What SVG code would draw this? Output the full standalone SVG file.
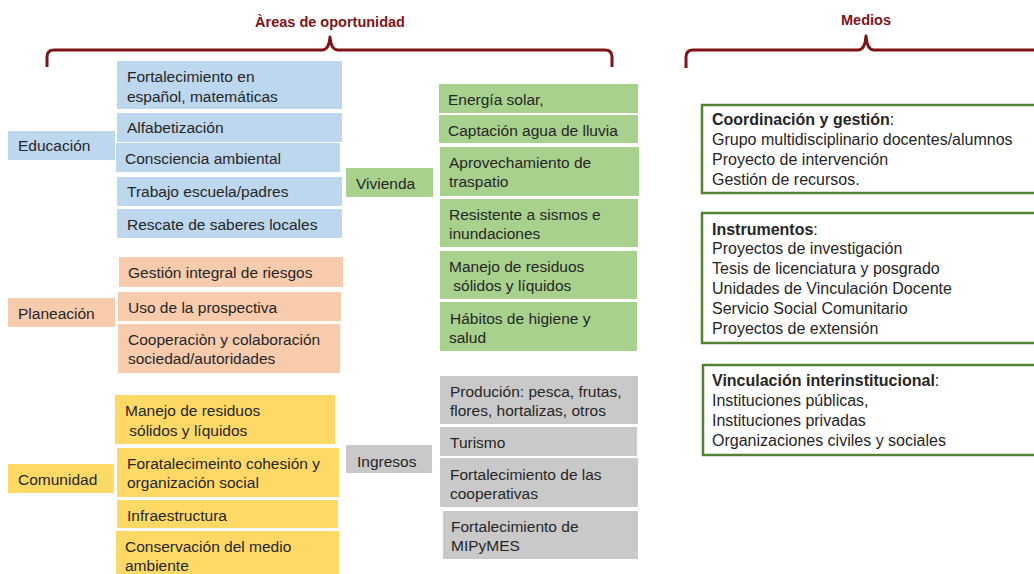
<svg xmlns="http://www.w3.org/2000/svg" width="1034" height="574" viewBox="0 0 1034 574">
<style>
text{font-family:"Liberation Sans",Arial,sans-serif;font-size:15.5px;fill:#262626}
.t{font-weight:bold;font-size:14.5px;fill:#7f1418}
.m{font-size:16px}
.b{font-weight:bold}
.brace{fill:none;stroke:#7f1418;stroke-width:3;stroke-linejoin:round}
.blue{fill:#bdd7ee}.sal{fill:#f8cbad}.yel{fill:#ffd966}.grn{fill:#a9d18e}.gry{fill:#c9c9c9}
.med{fill:#fff;stroke:#548235;stroke-width:2.5}
</style>
<rect width="1034" height="574" fill="#fff"/>
<text class="t" x="330" y="27" text-anchor="middle">Àreas de oportunidad</text>
<text class="t" x="866" y="25" text-anchor="middle">Medios</text>
<g id="braces">
<path class="brace" d="M47,67 L47,57 Q47,50 54,50 L322,50 Q329,50 330,37 Q331,50 338,50 L605,50 Q612,50 612,57 L612,67"/>
<path class="brace" d="M686,68 L686,57 Q686,50 693,50 L858,50 Q865,50 866,36 Q867,50 874,50 L1040,50"/>
</g>
<g id="educacion">
<rect class="blue" x="8" y="131" width="107" height="29"/><text x="18" y="151">Educación</text>
<rect class="blue" x="117" y="61" width="225" height="48"/><text x="127" y="81.5">Fortalecimiento en</text><text x="127" y="101.5">español, matemáticas</text>
<rect class="blue" x="117" y="113" width="225" height="29"/><text x="127" y="133">Alfabetización</text>
<rect class="blue" x="116" y="143" width="224" height="29"/><text x="125" y="163.5">Consciencia ambiental</text>
<rect class="blue" x="117" y="177" width="225" height="29"/><text x="127" y="197">Trabajo escuela/padres</text>
<rect class="blue" x="117" y="209" width="225" height="29"/><text x="127" y="229.5">Rescate de saberes locales</text>
</g>
<g id="planeacion">
<rect class="sal" x="8" y="298" width="107" height="29"/><text x="18" y="318.5">Planeación</text>
<rect class="sal" x="119" y="257" width="224" height="30"/><text x="128" y="277.5">Gestión integral de riesgos</text>
<rect class="sal" x="118" y="292" width="223" height="29"/><text x="128" y="312.5">Uso de la prospectiva</text>
<rect class="sal" x="118" y="324" width="222" height="49"/><text x="128" y="344.5">Cooperaciòn y colaboración</text><text x="128" y="363.5">sociedad/autoridades</text>
</g>
<g id="comunidad">
<rect class="yel" x="8" y="464" width="106" height="29"/><text x="18" y="484.5">Comunidad</text>
<rect class="yel" x="115" y="395" width="220" height="49"/><text x="125" y="415.5">Manejo de residuos</text><text x="125" y="435.5" xml:space="preserve"> sólidos y líquidos</text>
<rect class="yel" x="117" y="448" width="222" height="49"/><text x="127" y="468.5">Foratalecimeinto cohesión y</text><text x="127" y="487.5">organización social</text>
<rect class="yel" x="117" y="500" width="221" height="28"/><text x="127" y="520.5">Infraestructura</text>
<rect class="yel" x="116" y="531" width="223" height="43"/><text x="125" y="551.5">Conservación del medio</text><text x="125" y="570.5">ambiente</text>
</g>
<g id="vivienda">
<rect class="grn" x="346" y="168" width="87" height="29"/><text x="356" y="188.5">Vivienda</text>
<rect class="grn" x="439" y="84" width="199" height="29"/><text x="448" y="104.5">Energía solar,</text>
<rect class="grn" x="439" y="115" width="199" height="28"/><text x="448" y="135.5">Captación agua de lluvia</text>
<rect class="grn" x="440" y="147" width="199" height="49"/><text x="449" y="167.5">Aprovechamiento de</text><text x="449" y="186.5">traspatio</text>
<rect class="grn" x="440" y="199" width="198" height="48"/><text x="449" y="219.5">Resistente a sismos e</text><text x="449" y="238.5">inundaciones</text>
<rect class="grn" x="440" y="251" width="197" height="48"/><text x="449" y="271.5">Manejo de residuos</text><text x="449" y="290.5" xml:space="preserve"> sólidos y líquidos</text>
<rect class="grn" x="440" y="302" width="197" height="49"/><text x="450" y="323.5">Hábitos de higiene y</text><text x="449" y="342.5">salud</text>
</g>
<g id="ingresos">
<rect class="gry" x="346" y="445" width="86" height="28"/><text x="357" y="466.5">Ingresos</text>
<rect class="gry" x="440" y="376" width="198" height="48"/><text x="450" y="396.5">Produción: pesca, frutas,</text><text x="450" y="415.5">flores, hortalizas, otros</text>
<rect class="gry" x="440" y="427" width="197" height="29"/><text x="450" y="447.5">Turismo</text>
<rect class="gry" x="440" y="458" width="198" height="49"/><text x="450" y="479.5">Fortalecimiento de las</text><text x="450" y="498.5">cooperativas</text>
<rect class="gry" x="443" y="511" width="195" height="48"/><text x="451" y="531.5">Fortalecimiento de</text><text x="451" y="550.5">MIPyMES</text>
</g>
<g id="coordinacion">
<rect class="med" x="702" y="105" width="340" height="88"/>
<text class="m" x="712" y="124.5"><tspan class="b">Coordinación y gestión</tspan>:</text>
<text class="m" x="712" y="144.5">Grupo multidisciplinario docentes/alumnos</text>
<text class="m" x="712" y="164.5">Proyecto de intervención</text>
<text class="m" x="712" y="184.5">Gestión de recursos.</text>
</g>
<g id="instrumentos">
<rect class="med" x="702" y="213" width="340" height="130"/>
<text class="m" x="712" y="234.5"><tspan class="b">Instrumentos</tspan>:</text>
<text class="m" x="712" y="254">Proyectos de investigación</text>
<text class="m" x="712" y="274">Tesis de licenciatura y posgrado</text>
<text class="m" x="712" y="294">Unidades de Vinculación Docente</text>
<text class="m" x="712" y="314">Servicio Social Comunitario</text>
<text class="m" x="712" y="334">Proyectos de extensión</text>
</g>
<g id="vinculacion">
<rect class="med" x="703" y="365" width="340" height="90"/>
<text class="m" x="712" y="385.5"><tspan class="b">Vinculación interinstitucional</tspan>:</text>
<text class="m" x="712" y="405.5">Instituciones públicas,</text>
<text class="m" x="712" y="425.5">Instituciones privadas</text>
<text class="m" x="712" y="445.5">Organizaciones civiles y sociales</text>
</g>
</svg>
